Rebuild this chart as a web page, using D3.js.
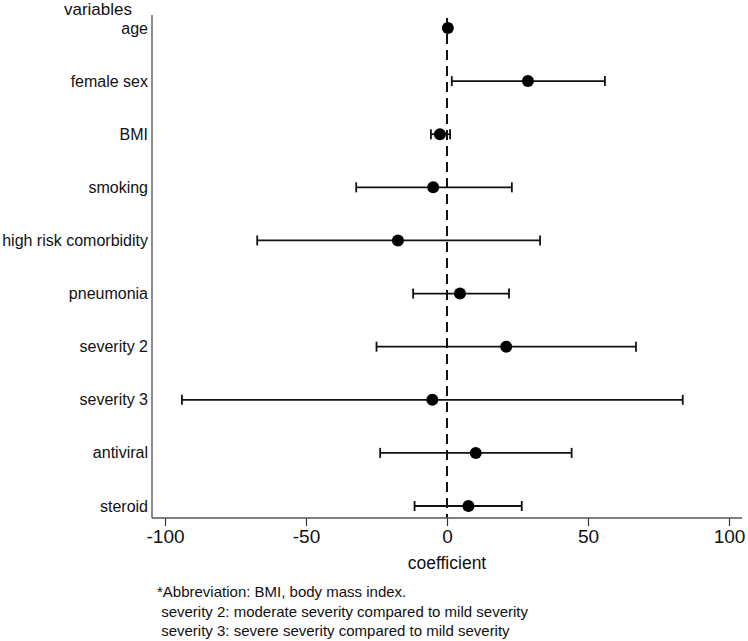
<!DOCTYPE html>
<html>
<head>
<meta charset="utf-8">
<script src="https://cdnjs.cloudflare.com/ajax/libs/d3/7.8.5/d3.min.js"></script>
<style>
  body { margin: 0; background: #fff; }
  text { font-family: "Liberation Sans", Arial, sans-serif; fill: #111; }
</style>
</head>
<body>
<div id="chart"></div>
<script>
// chart data
var variables = ["age", "female sex", "BMI", "smoking", "high risk comorbidity",
  "pneumonia", "severity 2", "severity 3", "antiviral", "steroid"];
var coef  = [0.3, 28.7, -2.5, -4.9, -17.4, 4.6, 21.0, -5.2, 10.2, 7.6];
var lower = [-0.6, 1.7, -5.7, -32.2, -67.3, -12.0, -25.0, -94.0, -23.7, -11.5];
var upper = [1.2, 56.0, 1.1, 23.0, 33.0, 22.0, 67.0, 83.6, 44.2, 26.5];
var xTicks = [-100, -50, 0, 50, 100];
var notes = ["*Abbreviation: BMI, body mass index.",
  " severity 2: moderate severity compared to mild severity",
  " severity 3: severe severity compared to mild severity"];

var svgWidth = 748;
var svgHeight = 641;

// plot frame
var frame = { left: 152, right: 742, top: 15, bottom: 518 };

var svg = d3.select("#chart")
  .append("svg")
  .attr("width", svgWidth)
  .attr("height", svgHeight);

var rows = variables.map(function(v, i) {
  return { name: v, est: coef[i], lo: lower[i], hi: upper[i] };
});

// scales
var xScale = d3.scaleLinear()
  .domain([-100, 100])
  .range([165, 729]);

var yScale = d3.scalePoint()
  .domain(variables)
  .range([28, 506]);

// zero reference line
svg.append("line")
  .attr("x1", xScale(0)).attr("x2", xScale(0))
  .attr("y1", 18).attr("y2", frame.bottom)
  .attr("stroke", "#111")
  .attr("stroke-width", 2)
  .attr("stroke-dasharray", "10,6");

// x axis (plain hyphen for negatives, like the original)
var bottomAxis = d3.axisBottom(xScale)
  .tickValues(xTicks)
  .tickSize(8)
  .tickPadding(4)
  .tickFormat(d => String(d));

var xAxisG = svg.append("g")
  .attr("transform", `translate(0, ${frame.bottom})`)
  .call(bottomAxis);
xAxisG.select(".domain").remove();
xAxisG.selectAll(".tick line").attr("stroke", "#333").attr("stroke-width", 1.2);
xAxisG.selectAll(".tick text")
  .style("font-size", "19px")
  .style("font-family", "Liberation Sans, Arial, sans-serif")
  .attr("fill", "#111");

svg.append("line")
  .attr("x1", frame.left).attr("x2", frame.right)
  .attr("y1", frame.bottom).attr("y2", frame.bottom)
  .attr("stroke", "#555").attr("stroke-width", 1.5);

// y axis line and labels
svg.append("line")
  .attr("x1", frame.left).attr("x2", frame.left)
  .attr("y1", frame.top).attr("y2", frame.bottom)
  .attr("stroke", "#666").attr("stroke-width", 1.5);

svg.append("g")
  .selectAll("text")
  .data(variables)
  .enter()
  .append("text")
  .attr("x", 148)
  .attr("y", d => yScale(d))
  .attr("dy", "0.35em")
  .attr("text-anchor", "end")
  .style("font-size", "16px")
  .text(d => d);

svg.append("text")
  .attr("x", 98)
  .attr("y", 15)
  .attr("text-anchor", "middle")
  .style("font-size", "17px")
  .text("variables");

// confidence intervals
var ci = svg.append("g").attr("stroke", "#111").attr("stroke-width", 1.8);

ci.selectAll(".ci")
  .data(rows)
  .enter()
  .append("line")
  .attr("x1", d => xScale(d.lo))
  .attr("x2", d => xScale(d.hi))
  .attr("y1", d => yScale(d.name))
  .attr("y2", d => yScale(d.name));

ci.selectAll(".capL")
  .data(rows)
  .enter()
  .append("line")
  .attr("x1", d => xScale(d.lo)).attr("x2", d => xScale(d.lo))
  .attr("y1", d => yScale(d.name) - 5)
  .attr("y2", d => yScale(d.name) + 5);

ci.selectAll(".capR")
  .data(rows)
  .enter()
  .append("line")
  .attr("x1", d => xScale(d.hi)).attr("x2", d => xScale(d.hi))
  .attr("y1", d => yScale(d.name) - 5)
  .attr("y2", d => yScale(d.name) + 5);

// point estimates
svg.selectAll("circle")
  .data(rows)
  .enter()
  .append("circle")
  .attr("cx", d => xScale(d.est))
  .attr("cy", d => yScale(d.name))
  .attr("r", 6)
  .attr("fill", "#000");

// axis title
svg.append("text")
  .attr("x", xScale(0))
  .attr("y", 569)
  .attr("text-anchor", "middle")
  .style("font-size", "17.5px")
  .text("coefficient");

// footnote
svg.append("g")
  .selectAll("text")
  .data(notes)
  .enter()
  .append("text")
  .attr("x", 157)
  .attr("y", (d, i) => 597 + i * 19.5)
  .attr("xml:space", "preserve")
  .style("white-space", "pre")
  .style("font-size", "15px")
  .text(d => d);
</script>
</body>
</html>
